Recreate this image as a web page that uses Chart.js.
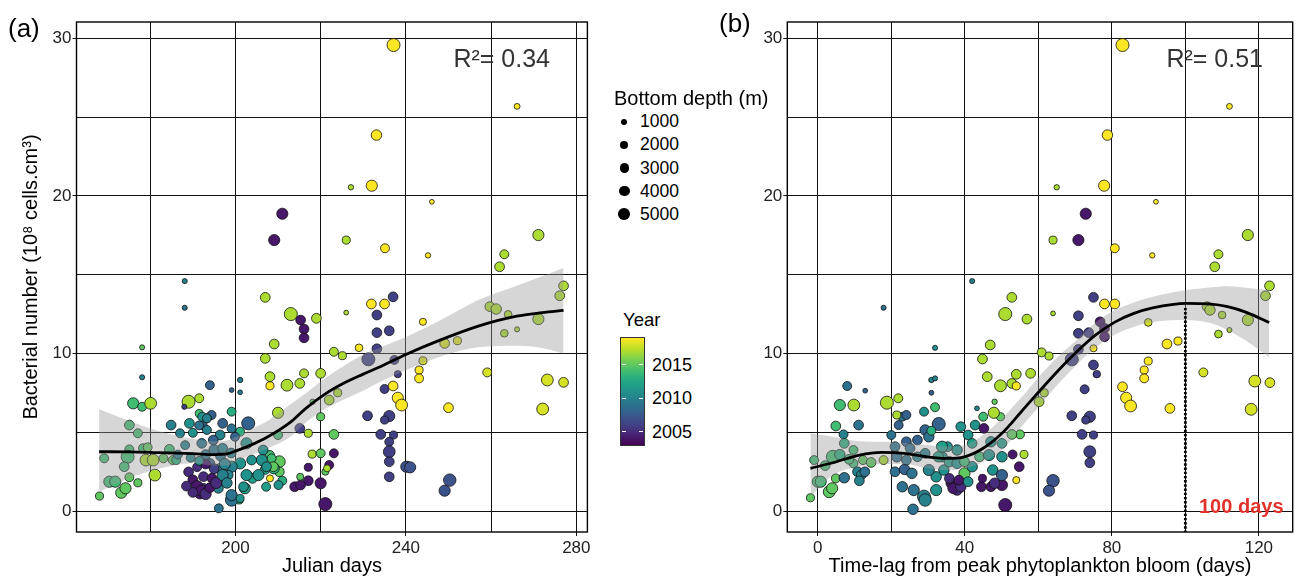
<!DOCTYPE html>
<html><head><meta charset="utf-8">
<script src="https://cdn.jsdelivr.net/npm/chart.js@4/dist/chart.umd.min.js"></script>
<style>
html,body{margin:0;padding:0;background:#fff;overflow:hidden;}
#wrap{position:relative;width:1298px;height:579px;overflow:hidden;background:#fff;font-family:"Liberation Sans",Arial,Helvetica,sans-serif;}
#wrap canvas{position:absolute;top:0;}
.t{position:absolute;white-space:nowrap;color:#000;}
</style></head><body><div id="wrap">
<canvas id="ca" width="600" height="579" style="left:0;width:600px;height:579px"></canvas>
<canvas id="cb" width="600" height="579" style="left:700px;width:600px;height:579px"></canvas>
</div>
<script>
// ---------------- DATA: panel (a) Julian days ----------------
const julianDay = [
237.1,266.1,233.1,227.1,232.0,246.1,211.0,209.1,226.0,235.1,
245.2,271.1,263.1,262.0,188.1,277.0,188.1,207.0,213.0,215.3,
216.1,216.1,219.0,226.0,231.9,235.0,237.0,233.2,233.2,236.1,
233.2,231.2,244.0,229.0,223.1,225.1,209.1,207.0,208.1,208.1,
212.1,215.1,216.1,220.0,237.3,238.1,243.1,243.1,244.0,235.0,
237.0,238.1,239.0,250.0,249.1,252.1,259.1,259.7,261.2,264.0,
263.1,266.1,271.1,276.1,273.2,277.0,272.1,231.0,236.1,235.0,
234.1,237.1,236.1,236.1,236.1,236.1,240.1,241.0,250.3,249.1,
221.1,220.0,217.1,213.9,215.3,217.1,222.0,223.1,221.1,221.5,
218.0,220.0,223.1,220.0,217.1,215.1,222.0,224.0,218.1,210.0,
210.0,208.1,210.3,210.3,208.1,211.0,207.2,207.0,209.0,204.0,
202.2,200.9,199.1,199.1,196.1,196.0,178.1,178.1,176.0,178.1,
180.1,175.1,177.1,169.2,170.4,171.8,168.1,173.2,174.2,175.1,
177.1,175.1,174.7,173.9,178.3,179.4,179.0,180.7,181.1,183.1,
184.5,185.3,184.9,187.0,189.2,188.2,186.1,189.0,191.5,188.0,
191.5,190.0,192.3,194.0,201.1,199.1,201.1,199.1,194.4,193.3,
203.0,197.0,201.1,199.1,199.9,193.3,196.4,194.8,192.1,202.6,
206.5,206.2,203.8,201.1,208.5,
208.9,207.3,199.1,196.4,194.0,198.3,202.6,205.4,210.1,201.9,201.1,192.5,191.7,215.2,
189.0,190.0,191.0,192.0,193.0,194.0,190.0,192.5,194.5,195.5,191.0,193.0,188.5,195.0,
196.5,197.5,197.0,198.0,193.0,195.0,197.0,199.0,189.5,191.5,186.5,191.5,192.2,193.3];
const bacteriaA = [
29.57,25.68,23.86,20.55,20.65,19.63,18.87,17.20,17.20,16.68,
16.23,17.52,16.30,15.51,14.60,14.30,12.91,13.57,12.51,12.13,
11.56,11.00,12.24,12.60,13.15,13.15,13.60,12.45,11.33,11.45,
10.31,9.64,12.02,10.37,10.12,9.87,10.61,9.70,8.54,7.96,
8.00,8.11,8.75,8.75,9.60,8.70,8.96,8.43,9.55,7.76,
7.95,7.20,6.74,6.57,10.65,10.82,8.81,12.98,12.83,12.49,
11.29,11.54,12.19,13.67,8.33,8.18,6.49,6.06,6.04,5.79,
4.88,4.84,4.41,3.78,3.15,2.19,2.83,2.79,1.98,1.31,
0.46,1.78,1.94,1.56,1.67,2.79,2.94,3.68,2.51,2.73,
3.63,3.68,4.88,6.00,4.95,5.26,7.06,7.52,6.95,6.25,
4.84,3.57,3.15,2.51,2.09,1.94,1.56,2.66,2.73,2.09,
1.46,0.72,0.72,1.03,0.19,1.46,10.40,8.50,6.85,6.63,
6.85,5.47,4.95,3.36,1.88,1.88,0.97,1.18,1.46,2.16,
1.81,3.93,3.46,2.83,4.00,4.06,3.25,3.25,2.30,3.36,
3.93,3.25,5.47,4.95,5.58,4.20,3.25,6.95,7.17,6.63,
6.20,4.98,5.47,8.00,8.33,7.69,7.55,6.32,6.11,5.90,
5.58,5.58,5.05,5.26,4.73,5.16,4.84,4.52,4.31,4.31,
3.89,3.25,3.25,3.04,3.36,
2.83,2.83,2.83,2.73,3.04,2.30,2.30,2.30,1.67,1.56,0.82,1.46,1.14,2.19,
2.50,2.00,1.60,1.30,1.10,1.50,1.20,2.20,2.10,1.80,2.80,3.00,1.60,2.70,
3.50,3.00,2.30,1.80,3.60,3.90,4.00,3.70,3.40,3.20,3.60,5.45,6.00,5.90];
const yearA = [
2019,2019,2019,2017,2019,2019,2004,2004,2017,2019,
2019,2017,2017,2017,2010,2017,2009,2017,2017,2004,
2004,2004,2017,2017,2019,2019,2006,2006,2006,2006,
2006,2006,2019,2019,2017,2017,2017,2017,2017,2019,
2017,2017,2017,2017,2006,2006,2019,2019,2018,2006,
2019,2019,2019,2019,2018,2018,2018,2017,2017,2017,
2017,2017,2017,2017,2018,2018,2018,2006,2006,2006,
2006,2006,2006,2006,2006,2006,2007,2007,2007,2007,
2004,2004,2004,2004,2004,2004,2004,2004,2015,2017,
2017,2015,2015,2015,2017,2006,2017,2017,2015,2017,
2014,2014,2015,2015,2019,2013,2012,2012,2013,2012,
2012,2013,2009,2009,2009,2010,2015,2010,2014,2014,
2017,2014,2014,2014,2014,2014,2015,2015,2015,2015,
2015,2014,2014,2014,2014,2015,2017,2017,2017,2015,
2014,2015,2010,2010,2011,2010,2013,2017,2017,2006,
2014,2011,2008,2008,2010,2008,2010,2013,2008,2008,
2008,2008,2013,2009,2008,2010,2010,2008,2009,2011,
2011,2011,2011,2011,2014,
2015,2011,2010,2009,2008,2010,2011,2011,2011,2011,2011,2005,2004,2015,
2005,2004,2004,2004,2005,2004,2005,2005,2004,2005,2005,2004,2005,2006,
2009,2010,2010,2010,2009,2009,2010,2010,2010,2011,2010,2009,2011,2010];
const depthA = [
5000,500,3000,300,3500,100,3500,3500,1500,2000,
300,3500,2000,2500,200,2500,200,2500,5000,2500,
2500,2500,2500,100,2500,2500,2500,2500,2500,2500,
2500,5000,1000,1300,2000,1500,2500,2500,2500,1500,
4000,2500,2000,2500,2000,1000,1500,2000,1500,2000,
2500,3500,4000,2500,2500,1500,2000,2500,3000,1300,
1300,200,3500,2500,4000,2500,4000,2500,3500,1500,
2500,1500,2000,4000,2500,2500,3500,3500,4500,3500,
5000,3500,2500,2500,2500,1500,2000,2000,1000,1000,
1500,2000,2500,1500,1500,2500,2500,1500,300,3500,
2000,2000,4000,2500,1000,2000,2000,2500,3500,2500,
3500,1500,4500,3500,2000,2500,200,200,3500,2000,
4000,2500,2000,2000,3500,3500,1500,3500,3500,2000,
1500,2000,5000,2500,2000,2000,4000,4000,4000,2000,
2500,2000,2500,2000,2500,2000,2000,5000,2000,200,
1500,2000,2000,2000,300,100,100,2000,2000,2000,
5000,2500,2000,2000,2000,2000,2500,2500,2500,3500,
2500,3500,2500,3500,2000,
2500,2500,3500,2500,2500,2500,3500,3500,2000,2500,1500,2500,3500,1000,
2500,2500,3500,3500,3500,2500,2500,2500,2500,3500,2000,2500,2500,2500,
2500,3500,3500,3000,2500,3000,2500,2500,2000,2000,2000,2000,2000,2000];

// ---------------- DATA: panel (b) time-lag ----------------
const lagDays = [
82.9,112.0,78.8,65.0,77.9,92.0,72.9,70.9,64.0,80.8,
91.0,117.0,109.0,108.0,42.0,122.9,17.9,52.8,51.0,56.9,
64.0,75.0,78.0,80.8,70.9,76.8,78.0,78.0,70.9,73.7,
70.9,69.1,75.0,89.9,95.0,98.0,75.0,75.9,89.9,88.8,
88.8,82.9,83.9,85.1,95.8,72.6,104.9,105.9,106.7,110.0,
109.0,112.0,117.0,121.8,118.9,123.0,117.9,69.1,74.0,72.9,
71.9,75.0,74.0,74.0,64.0,62.9,51.0,50.1,47.1,44.5,
44.8,54.8,53.0,56.1,54.0,55.0,52.8,49.7,48.1,47.9,
45.0,46.1,44.8,46.9,49.7,52.8,54.0,54.0,57.9,60.9,
62.9,61.6,60.2,43.3,31.9,30.9,31.9,30.9,12.9,8.0,
6.0,9.8,18.8,21.9,4.9,11.1,7.0,-2.0,3.1,3.9,
-1.0,0.0,0.8,4.9,4.1,7.2,9.7,9.7,12.3,7.2,
10.8,11.8,12.8,11.3,17.9,20.0,22.0,23.0,24.1,21.5,
21.0,21.0,24.1,25.1,27.1,29.2,30.2,32.9,28.9,31.9,
30.9,23.6,25.6,23.0,26.1,28.9,29.2,25.9,32.2,32.2,
30.2,34.3,33.8,35.3,37.9,38.9,40.9,42.8,45.2,39.9,
36.3,37.9,36.8,38.9,35.8,38.4,40.9,42.0,44.0,46.6,
47.6,50.1,50.1,48.1,47.1,50.1,42.0,33.8,32.8,35.8,
37.9,39.9,21.5,24.1,27.1,29.2,6.0,8.5,14.5,2.0];
const bacteriaB = [
29.57,25.68,23.86,20.55,20.65,19.63,18.87,17.20,17.20,16.68,
16.23,17.52,16.30,15.51,14.60,14.30,12.91,13.57,12.51,12.19,
12.55,13.57,13.15,13.15,12.40,12.02,11.60,11.07,11.29,11.33,
10.27,9.64,10.34,11.98,10.61,10.80,9.28,8.70,9.53,8.96,
8.43,7.90,7.20,6.68,6.53,7.74,8.81,12.98,12.77,12.45,
11.24,11.50,12.13,13.67,8.26,8.16,6.47,6.06,6.00,5.79,
4.88,4.84,3.78,3.08,1.94,1.31,0.40,1.67,1.56,1.56,
2.09,2.83,3.61,3.61,1.98,4.88,4.88,6.00,6.95,6.25,
6.00,8.54,9.66,10.55,7.96,8.11,8.69,7.95,8.75,10.08,
9.85,7.52,6.95,6.53,10.37,8.33,8.43,7.52,7.65,7.95,
6.74,6.74,6.89,7.17,5.41,5.47,4.88,0.86,1.24,1.46,
3.25,1.88,1.88,2.09,3.46,4.31,3.89,3.04,3.25,2.13,
2.51,2.30,2.51,1.94,3.25,4.84,5.47,6.00,6.11,6.11,
4.10,2.51,4.41,4.00,4.52,5.16,4.73,5.54,6.32,6.60,
5.11,2.66,2.41,1.56,1.35,0.93,0.72,0.13,1.35,2.19,
2.62,2.62,3.46,4.10,3.89,5.37,4.84,5.47,5.26,2.41,
1.78,1.35,1.46,1.56,2.09,1.98,1.88,2.83,3.46,3.57,
2.62,3.46,2.30,1.78,4.41,4.31,4.31,4.10,3.46,3.15,
3.04,3.15,3.46,3.25,3.46,3.68,3.60,3.30,3.10,2.90];
const yearB = [
2019,2019,2019,2017,2019,2019,2004,2004,2017,2019,
2019,2017,2017,2017,2010,2017,2009,2017,2017,2017,
2017,2006,2019,2019,2006,2004,2004,2004,2006,2006,
2006,2006,2019,2018,2019,2019,2006,2006,2019,2019,
2019,2019,2019,2019,2019,2006,2018,2017,2017,2017,
2017,2017,2017,2017,2018,2018,2018,2006,2006,2006,
2006,2006,2006,2006,2007,2007,2004,2004,2004,2004,
2004,2004,2004,2017,2019,2015,2015,2015,2015,2017,
2014,2017,2017,2017,2017,2017,2017,2019,2017,2017,
2017,2017,2017,2010,2011,2010,2010,2008,2008,2009,
2014,2017,2017,2017,2014,2009,2010,2015,2015,2015,
2014,2014,2014,2015,2014,2013,2014,2014,2015,2009,
2010,2010,2009,2010,2017,2009,2008,2009,2008,2017,
2009,2009,2008,2009,2008,2008,2009,2008,2011,2014,
2013,2008,2009,2009,2009,2010,2010,2009,2011,2011,
2010,2011,2011,2011,2011,2011,2011,2011,2004,2015,
2004,2005,2004,2005,2005,2004,2011,2011,2014,2011,
2011,2011,2008,2005,2011,2012,2012,2012,2012,2012,
2011,2014,2009,2009,2010,2010,2013,2014,2015,2014];
const depthB = [
5000,500,3000,300,3500,100,3500,3500,1500,2000,
300,3500,2000,2500,200,2500,200,2500,5000,2500,
100,2500,2500,2500,2500,2500,2500,2500,2500,2500,
2500,5000,1000,1300,2500,1500,2500,1200,1500,1500,
2000,2500,3500,4000,2500,2000,2000,2500,3000,1300,
1300,200,3500,2500,4000,2500,4000,2500,3500,1500,
2500,1500,4000,2500,4500,3500,5000,3500,2500,2500,
1500,2500,2000,1500,1000,2000,2500,1500,300,3500,
2000,2500,2500,2500,4000,2500,2500,1500,2500,2000,
1500,1500,2500,100,200,300,200,100,100,2000,
3500,4000,5000,2000,2500,2500,2000,1500,4000,3500,
2000,3500,3500,2000,5000,2500,2000,2000,2000,3000,
2500,2500,2500,2500,2000,2000,2000,2000,2000,1500,
2500,2500,2500,2500,2500,3000,3000,5000,2000,2000,
2000,3000,3000,3000,3500,5000,4500,3000,3500,3000,
3500,3000,3000,2500,3000,2500,2500,2500,2500,3500,
3000,3000,3000,3000,2500,2500,2500,3000,2500,3500,
3000,3000,3500,3000,3000,2500,2500,3500,3000,3000,
3000,2500,3000,2500,2500,2500,3000,2500,2500,2500];

// ---------------- smooth fits (loess line and 95% band) ----------------
const fitDayA = [168,175,182,190,195,198,200,203.6,207.6,213,216.6,221.1,225.6,230,234.6,240,248,257,266,272,277];
const fitA    = [3.78,3.77,3.72,3.66,3.60,3.64,3.82,4.20,4.73,5.68,6.55,7.45,8.15,8.70,9.25,9.95,10.86,11.75,12.38,12.60,12.74];
const fitHiA  = [6.47,5.75,5.10,4.60,4.45,4.50,4.70,5.20,5.75,6.80,7.50,8.45,9.25,9.95,10.45,11.05,12.10,13.40,14.30,14.90,15.45];
const fitLoA  = [1.24,2.10,2.70,3.05,2.90,2.90,3.15,3.55,4.00,4.75,5.65,6.50,7.10,7.65,8.30,8.95,9.80,10.40,10.50,10.35,10.00];

const fitLagB = [-2,4.1,11.3,17.4,23.5,29.7,34.8,39.9,45,50.1,55.3,60.4,65.5,70.6,75.7,80.8,86,91.1,100.3,106.4,111.5,116.6,122.8];
const fitB    = [2.73,3.08,3.57,3.74,3.68,3.46,3.36,3.46,4.00,4.95,6.30,7.65,8.95,10.15,11.20,12.00,12.55,12.90,13.19,13.15,12.98,12.62,11.98];
const fitHiB  = [4.95,4.73,4.45,4.41,4.35,4.20,4.10,4.20,4.84,5.90,7.20,8.60,9.85,10.90,12.00,12.75,13.25,13.60,14.03,14.20,14.28,14.18,14.03];
const fitLoB  = [0.93,2.30,2.83,3.00,3.00,2.73,2.62,2.73,3.15,3.89,5.35,6.70,8.10,9.35,10.40,11.20,11.70,12.00,12.13,11.96,11.50,10.80,9.77];

// axes, ticks, legend values
const xGridA = [180,200,220,240,260,280], xLabelA = [200,240,280];
const xGridB = [0,20,40,60,80,100,120],   xLabelB = [0,40,80,120];
const yGrid  = [0,5,10,15,20,25,30],      yLabel  = [0,10,20,30];
const legendDepths = [1000,2000,3000,4000,5000];
const yearTicks = [2005,2010,2015];
const YEAR_MIN = 2003, YEAR_MAX = 2019;
const bloomLag = 100, bloomTop = 12.9;

// ---------------- helpers ----------------
const FONT = '"Liberation Sans", Arial, Helvetica, sans-serif';
const VIR = ['#440154','#482475','#414487','#355f8d','#2a788e','#21918c','#22a884','#44bf70','#7ad151','#bddf26','#fde725'];
function hex(h){return [1,3,5].map(i=>parseInt(h.substr(i,2),16));}
function viridis(t){
  t=Math.max(0,Math.min(1,t)); const p=t*10, i=Math.min(9,Math.floor(p)), f=p-i;
  const a=hex(VIR[i]), b=hex(VIR[i+1]);
  return 'rgb('+a.map((v,k)=>Math.round(v+(b[k]-v)*f)).join(',')+')';
}
const yearColor = y => viridis((y-YEAR_MIN)/(YEAR_MAX-YEAR_MIN));
const depthRadius = d => Math.sqrt(5 + 7.5*d/1000);

const framePlugin = {
  id:'frame',
  afterDatasetsDraw(chart, args, o){
    if(!o || o.vlineX===undefined) return;
    const {ctx, chartArea:a, scales} = chart;
    const x = scales.x.getPixelForValue(o.vlineX), y0 = scales.y.getPixelForValue(o.vlineTop);
    ctx.save(); ctx.strokeStyle='#000'; ctx.lineWidth=2.8; ctx.setLineDash([2.4,1.8]);
    ctx.beginPath(); ctx.moveTo(x,y0); ctx.lineTo(x,a.bottom); ctx.stroke(); ctx.restore();
  },
  afterDraw(chart){
    const {ctx, chartArea:a} = chart;
    ctx.save(); ctx.strokeStyle='#000'; ctx.lineWidth=1.4;
    ctx.strokeRect(a.left,a.top,a.right-a.left,a.bottom-a.top); ctx.restore();
  }
};

function makeChart(id, o){
  const pts = o.xs.map((x,i)=>({x, y:o.ys[i]}));
  const line = o.fx.map((x,i)=>({x, y:o.fy[i]}));
  const hi = o.fx.map((x,i)=>({x, y:o.fhi[i]}));
  const lo = o.fx.map((x,i)=>({x, y:o.flo[i]}));
  return new Chart(document.getElementById(id), {
    type:'scatter',
    data:{datasets:[
      {type:'line', data:line, borderColor:'#000', borderWidth:2.8, pointRadius:0, fill:false, cubicInterpolationMode:'monotone', order:1},
      {type:'line', data:hi, borderWidth:0, borderColor:'rgba(0,0,0,0)', pointRadius:0, backgroundColor:'rgba(153,153,153,0.4)', fill:'+1', cubicInterpolationMode:'monotone', order:5},
      {type:'line', data:lo, borderWidth:0, borderColor:'rgba(0,0,0,0)', pointRadius:0, fill:false, cubicInterpolationMode:'monotone', order:6},
      {data:pts, pointRadius:o.depth.map(depthRadius), pointBackgroundColor:o.year.map(yearColor),
       pointBorderColor:'#111', pointBorderWidth:0.8, pointHoverRadius:0, order:10}
    ]},
    plugins:[framePlugin],
    options:{
      responsive:false, animation:false, events:[],
      layout:{padding:{left:0, right:o.padRight, top:22, bottom:0}},
      plugins:{legend:{display:false}, tooltip:{enabled:false}, frame:o.frame||{}},
      scales:{
        x:{type:'linear', min:o.xmin, max:o.xmax,
          afterBuildTicks:s=>{s.ticks=o.xGrid.map(v=>({value:v}));},
          afterFit:s=>{s.height=47;},
          border:{display:false},
          grid:{color:'#111', lineWidth:1, tickLength:4, tickColor:c=>o.xLabel.includes(c.tick&&c.tick.value)?'#111':'rgba(0,0,0,0)'},
          ticks:{autoSkip:false, maxRotation:0, padding:2, color:'#222', font:{family:FONT,size:17},
            callback:v=>o.xLabel.includes(v)?String(v):''},
          title:{display:true, text:o.xTitle, color:'#000', font:{family:FONT,size:20}, padding:{top:0,bottom:1}}
        },
        y:{type:'linear', min:-1.31, max:31.03,
          afterBuildTicks:s=>{s.ticks=yGrid.map(v=>({value:v}));},
          afterFit:s=>{s.width=o.yWidth;},
          border:{display:false},
          grid:{color:'#111', lineWidth:1, tickLength:4, tickColor:c=>yLabel.includes(c.tick&&c.tick.value)?'#111':'rgba(0,0,0,0)'},
          ticks:{autoSkip:false, padding:1, color:'#222', font:{family:FONT,size:17},
            callback:v=>yLabel.includes(v)?String(v):''},
          title:{display:!!o.yTitle, text:o.yTitle||'', color:'#000', font:{family:FONT,size:20}, padding:{top:19,bottom:0}}
        }
      }
    }
  });
}

makeChart('ca', {xs:julianDay, ys:bacteriaA, year:yearA, depth:depthA,
  fx:fitDayA, fy:fitA, fhi:fitHiA, flo:fitLoA, xmin:162.7, xmax:282.6, xGrid:xGridA, xLabel:xLabelA,
  xTitle:'Julian days', yTitle:'Bacterial number (10\u2078 cells.cm\u00B3)', yWidth:76.5, padRight:12.6});
makeChart('cb', {xs:lagDays, ys:bacteriaB, year:yearB, depth:depthB,
  fx:fitLagB, fy:fitB, fhi:fitHiB, flo:fitLoB, xmin:-8.3, xmax:129.2, xGrid:xGridB, xLabel:xLabelB,
  xTitle:'Time-lag from peak phytoplankton bloom (days)', yWidth:87.3, padRight:0,
  frame:{vlineX:bloomLag, vlineTop:bloomTop}});

// ---------------- HTML text & legends ----------------
const wrap = document.getElementById('wrap');
function text(s, left, cy, size, css){
  const d=document.createElement('div'); d.className='t'; d.textContent=s;
  d.style.fontSize=size+'px'; d.style.lineHeight=Math.round(size*1.2)+'px';
  d.style.top=(cy-size*0.6)+'px';
  if(left!==null) d.style.left=left+'px';
  Object.assign(d.style, css||{}); wrap.appendChild(d); return d;
}
text('(a)', 8, 29, 26);
text('(b)', 719, 24, 26);
text('R\u00B2= 0.34', null, 58, 25, {right:(1298-550)+'px', color:'#333'});
text('R\u00B2= 0.51', null, 58, 25, {right:(1298-1263)+'px', color:'#333'});
text('100 days', 1199, 506, 20, {color:'#e0312b', fontWeight:'bold'});

// size legend
text('Bottom depth (m)', 614, 98, 20);
legendDepths.forEach((d,i)=>{
  const cy = 121.7 + i*23.15, r = Math.sqrt(3 + 6.2*d/1000);
  const c=document.createElement('div');
  Object.assign(c.style,{position:'absolute', left:(624.3-r)+'px', top:(cy-r)+'px', width:(2*r)+'px', height:(2*r)+'px', borderRadius:'50%', background:'#000'});
  wrap.appendChild(c);
  text(String(d), 640, cy, 17.5);
});
// colour bar
text('Year', 623, 320, 18.5);
const BAR = {left:621, top:338, w:23, h:107};
const bar=document.createElement('div');
const stops = VIR.map((c,i)=>c+' '+(i*10)+'%').join(',');
Object.assign(bar.style,{position:'absolute', left:BAR.left+'px', top:BAR.top+'px', width:BAR.w+'px', height:BAR.h+'px',
  background:'linear-gradient(to top,'+stops+')', outline:'1px solid #333'});
wrap.appendChild(bar);
yearTicks.forEach(y=>{
  const cy = BAR.top + BAR.h - (y-YEAR_MIN)/(YEAR_MAX-YEAR_MIN)*BAR.h;
  [BAR.left+1, BAR.left+BAR.w-5].forEach(x=>{
    const m=document.createElement('div');
    Object.assign(m.style,{position:'absolute', left:x+'px', top:(cy-0.5)+'px', width:'4px', height:'1px', background:'#fff'});
    wrap.appendChild(m);
  });
  text(String(y), 652, cy, 18);
});
</script></body></html>
